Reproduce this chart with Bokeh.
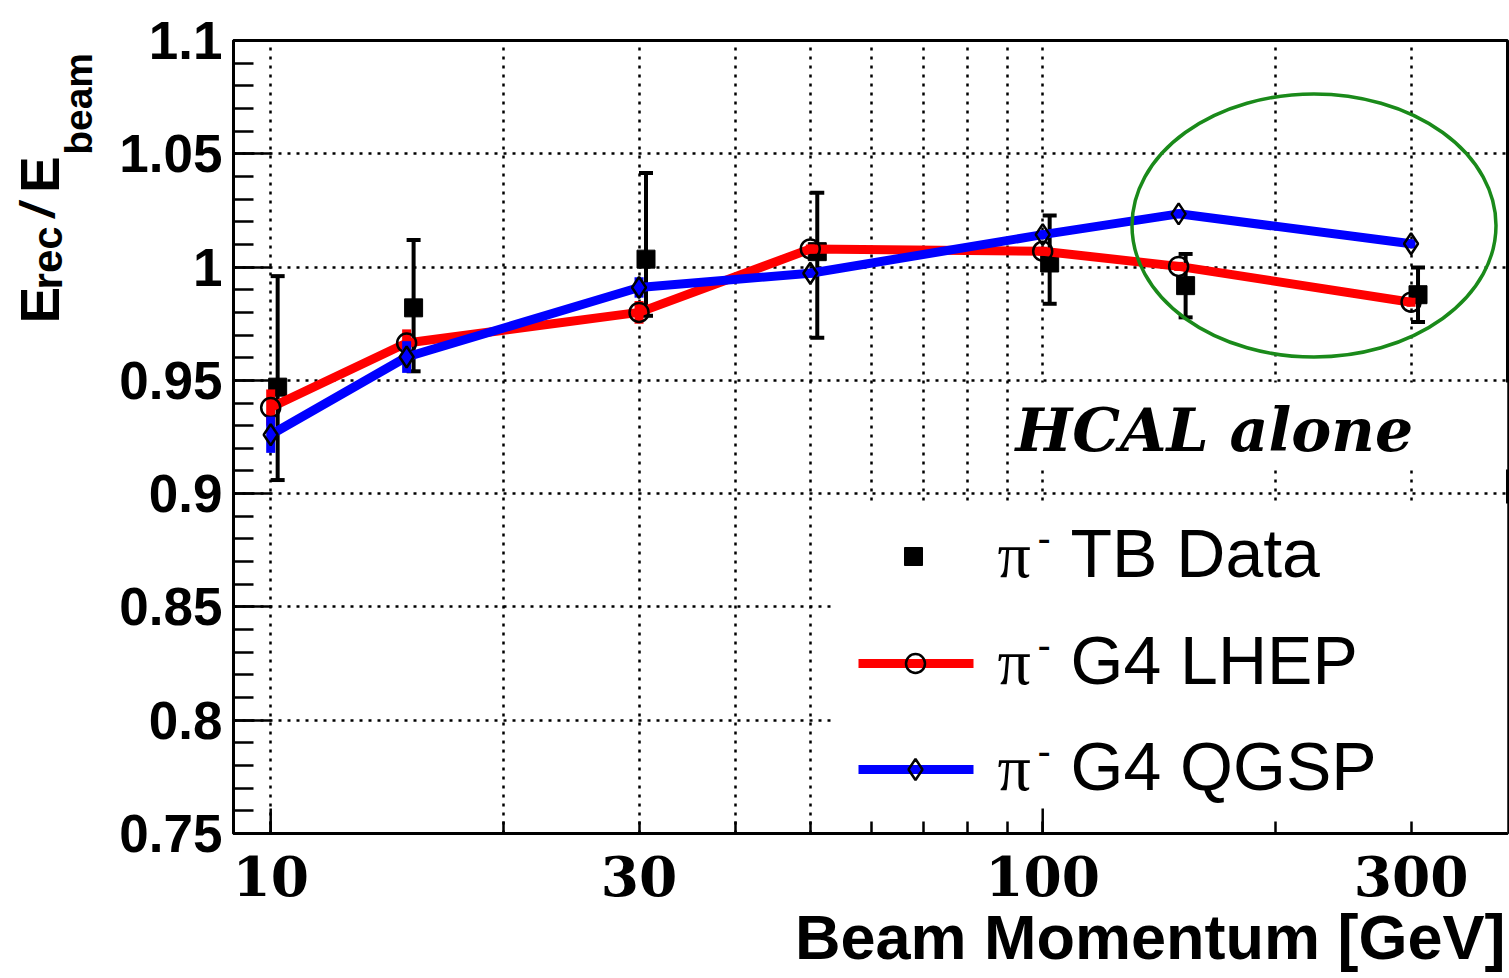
from math import log10, pi

from bokeh.embed import file_html
from bokeh.layouts import row
from bokeh.models import BoxAnnotation, ColumnDataSource, FixedTicker, Label, Range1d, Title
from bokeh.plotting import figure
from bokeh.resources import INLINE

# ---------------------------------------------------------------- data
# beam momenta [GeV]
energies = [10, 15, 30, 50, 100, 150, 300]

# pi- test-beam data: E_rec / E_beam with asymmetric uncertainties
tb_data = [0.947, 0.982, 1.0035, 1.0068, 1.0018, 0.9918, 0.9878]
tb_err_up = [0.049, 0.030, 0.038, 0.026, 0.021, 0.014, 0.012]
tb_err_down = [0.041, 0.028, 0.025, 0.038, 0.018, 0.014, 0.012]

# Geant4 LHEP physics list
lhep = [0.938, 0.9665, 0.980, 1.008, 1.007, 1.0003, 0.9845]
lhep_err = [0.008, 0.006, 0.005, 0.002, 0.002, 0.002, 0.002]

# Geant4 QGSP physics list
qgsp = [0.926, 0.9603, 0.991, 0.9973, 1.0143, 1.0235, 1.0103]
qgsp_err = [0.008, 0.007, 0.0045, 0.002, 0.002, 0.002, 0.002]

legend_names = ["TB Data", "G4 LHEP", "G4 QGSP"]

x_ticks = [10, 30, 100, 300]
x_tick_labels = ["10", "30", "100", "300"]
x_minor_ticks = [20, 40, 50, 60, 70, 80, 90, 200]
x_decade_ticks = [10, 100]
y_ticks = [0.75, 0.8, 0.85, 0.9, 0.95, 1.0, 1.05, 1.1]
y_tick_labels = ["0.75", "0.8", "0.85", "0.9", "0.95", "1", "1.05", "1.1"]
y_minor_ticks = [round(0.75 + 0.01 * i, 2) for i in range(36)]

# data points are drawn slightly right of the nominal momentum
DATA_SHIFT = 1.021

# ---------------------------------------------------------------- geometry
W, H = 1509, 978
LEFT_W = 110                                  # strip holding the y title
FL, FR, FT, FB = 233, 1507, 40, 833           # frame edges in page pixels
X_LO, X_HI = 8.95, 400.0
Y_LO, Y_HI = 0.75, 1.1
BASE = 0.37                                   # anchor-to-baseline correction (em)


def fx(px):
    """page x pixel -> data x (log axis)"""
    return 10 ** (log10(X_LO) + (px - FL) / (FR - FL) * (log10(X_HI) - log10(X_LO)))


def fy(py):
    """page y pixel -> data y"""
    return Y_LO + (FB - py) / (FB - FT) * (Y_HI - Y_LO)


p = figure(
    width=W - LEFT_W, height=H,
    x_axis_type="log",
    x_range=Range1d(X_LO, X_HI), y_range=Range1d(Y_LO, Y_HI),
    output_backend="svg", toolbar_location=None,
    min_border_left=FL - LEFT_W, min_border_right=W - FR,
    min_border_top=FT, min_border_bottom=H - FB,
)
p.background_fill_color = "white"
p.border_fill_color = "white"
p.outline_line_color = "black"
p.outline_line_width = 3

# ---------------------------------------------------------------- axes
xt = FixedTicker(ticks=x_ticks, minor_ticks=x_minor_ticks)
xa = p.xaxis[0]
xa.ticker = xt
xa.major_label_overrides = dict(zip(x_ticks, x_tick_labels))
xa.axis_line_width = 3
xa.major_tick_in, xa.major_tick_out = 12, 0
xa.minor_tick_in, xa.minor_tick_out = 12, 0
xa.major_tick_line_width = 2.5
xa.minor_tick_line_width = 2.5
xa.major_label_text_font = "DejaVu Serif"
xa.major_label_text_font_style = "bold"
xa.major_label_text_font_size = "55px"
xa.major_label_text_color = "black"
xa.major_label_standoff = 22

# x title, right-aligned under the axis
p.add_layout(Title(text="Beam Momentum [GeV]", align="right", vertical_align="bottom",
                   offset=2, standoff=2, text_font="Liberation Sans",
                   text_font_style="bold", text_font_size="63px", text_color="black"),
             "below")

yt = FixedTicker(ticks=y_ticks, minor_ticks=y_minor_ticks)
ya = p.yaxis[0]
ya.ticker = yt
ya.major_label_overrides = dict(zip(y_ticks, y_tick_labels))
ya.axis_line_width = 3
ya.major_tick_in, ya.major_tick_out = 38, 0
ya.minor_tick_in, ya.minor_tick_out = 20, 0
ya.major_tick_line_width = 2.5
ya.minor_tick_line_width = 2.5
ya.major_label_text_font = "Liberation Sans"
ya.major_label_text_font_style = "bold"
ya.major_label_text_font_size = "53px"
ya.major_label_text_color = "black"
ya.major_label_standoff = 11

# dotted grid on every x tick (major and minor) and every major y tick
p.xgrid.ticker = xt
p.xgrid.grid_line_color = "black"
p.xgrid.grid_line_dash = "3 6"
p.xgrid.grid_line_width = 2.5
p.xgrid.minor_grid_line_color = "black"
p.xgrid.minor_grid_line_dash = "3 6"
p.xgrid.minor_grid_line_width = 2.5
p.ygrid.ticker = FixedTicker(ticks=y_ticks)
p.ygrid.grid_line_color = "black"
p.ygrid.grid_line_dash = "3 6"
p.ygrid.grid_line_width = 2.5

# longer ticks at the decades
p.segment(x0=x_decade_ticks, y0=[Y_LO] * 2, x1=x_decade_ticks,
          y1=[fy(FB - 25)] * 2, line_color="black", line_width=2.5)

# white panels (legend and text box) over the grid
p.add_layout(BoxAnnotation(left=fx(833), right=fx(FR), top=fy(503), bottom=fy(FB),
                           fill_color="white", fill_alpha=1.0, line_alpha=0,
                           level="underlay"))
p.add_layout(BoxAnnotation(left=fx(1009), right=fx(FR), top=fy(382), bottom=fy(469),
                           fill_color="white", fill_alpha=1.0, line_alpha=0,
                           level="underlay"))

# ---------------------------------------------------------------- test-beam data
tb = ColumnDataSource(dict(
    x=[e * DATA_SHIFT for e in energies],
    y=tb_data,
    lo=[v - d for v, d in zip(tb_data, tb_err_down)],
    hi=[v + u for v, u in zip(tb_data, tb_err_up)],
))
p.segment(x0="x", y0="lo", x1="x", y1="hi", source=tb, line_color="black", line_width=4)
p.scatter(x="x", y="hi", source=tb, marker="dash", size=14, line_color="black", line_width=4)
p.scatter(x="x", y="lo", source=tb, marker="dash", size=14, line_color="black", line_width=4)
p.scatter(x="x", y="y", source=tb, marker="square", size=18, fill_color="black", line_color="black")


# ---------------------------------------------------------------- simulations
def sim_series(vals, errs, color, marker, size):
    src = ColumnDataSource(dict(
        x=energies, y=vals,
        lo=[v - e for v, e in zip(vals, errs)],
        hi=[v + e for v, e in zip(vals, errs)],
    ))
    p.segment(x0="x", y0="lo", x1="x", y1="hi", source=src, line_color=color,
              line_width=9, line_cap="butt")
    p.line(x="x", y="y", source=src, line_color=color, line_width=9)
    p.scatter(x="x", y="y", source=src, marker=marker, size=size, fill_alpha=0,
              line_color="black", line_width=2.5)


sim_series(lhep, lhep_err, "#ff0000", "circle", 19)
sim_series(qgsp, qgsp_err, "#0000ff", "diamond", 21)

# highlight of the high-energy points
p.ellipse(x=[fx(1313.5)], y=[fy(225)], width=364, height=263,
          width_units="screen", height_units="screen",
          fill_alpha=0, line_color="#1a8a1a", line_width=3.5)

# ---------------------------------------------------------------- legend
row_y = [556, 663, 769]
p.scatter([fx(913)], [fy(row_y[0])], marker="square", size=18, color="black")
p.line([fx(858), fx(973)], [fy(row_y[1])] * 2, line_color="#ff0000", line_width=9)
p.scatter([fx(915)], [fy(row_y[1])], marker="circle", size=19, fill_alpha=0,
          line_color="black", line_width=2.5)
p.line([fx(858), fx(973)], [fy(row_y[2])] * 2, line_color="#0000ff", line_width=9)
p.scatter([fx(915)], [fy(row_y[2])], marker="diamond", size=21, fill_alpha=0,
          line_color="black", line_width=2.5)


def text_at(px, py_base, txt, font, size, style="normal", align="left"):
    """text whose baseline sits at page pixel row py_base"""
    p.add_layout(Label(x=fx(px), y=fy(py_base - BASE * size), text=txt, text_font=font,
                       text_font_style=style, text_font_size=f"{size}px",
                       text_color="black", text_align=align, text_baseline="alphabetic"))


for name, yc in zip(legend_names, row_y):
    base = yc + 22
    text_at(997, base, "\u03c0", "Liberation Serif", 66)
    text_at(1037, base - 26, "-", "Liberation Sans", 40)
    text_at(1070, base, name, "Liberation Sans", 68)

text_at(1015, 452, "HCAL alone", "DejaVu Serif", 60, style="bold italic")

# ---------------------------------------------------------------- y title strip
ys = figure(width=LEFT_W, height=H, x_range=Range1d(0, LEFT_W), y_range=Range1d(0, H),
            x_axis_location=None, y_axis_location=None,
            output_backend="svg", toolbar_location=None, min_border=0)
ys.grid.visible = False
ys.outline_line_color = None
ys.background_fill_color = "white"
ys.border_fill_color = "white"

# (text, font size, style, baseline x, start y) -- rotated, reading upwards
title_parts = [("E", 55, "bold", 60, 349),
               ("rec", 42, "bold", 63, 307),
               ("/", 48, "bold italic", 55, 218),
               ("E", 55, "bold", 60, 188),
               ("beam", 39, "bold", 92, 141)]
for txt, fs, style, bx, start in title_parts:
    ys.add_layout(Label(x=bx - BASE * fs, y=H - start, text=txt, angle=pi / 2,
                        text_font="Liberation Sans", text_font_style=style,
                        text_font_size=f"{fs}px", text_color="black",
                        text_align="left", text_baseline="alphabetic"))

page = row(ys, p, spacing=0)
open("out.html", "w").write(file_html(page, INLINE))
